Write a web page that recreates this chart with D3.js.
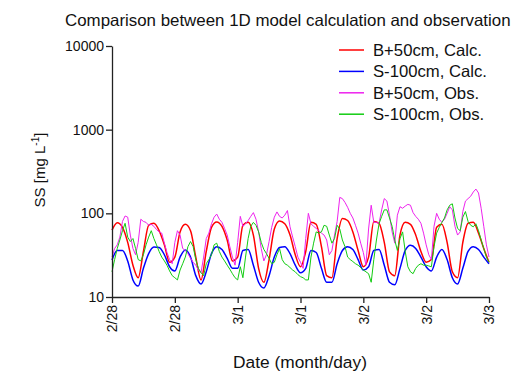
<!DOCTYPE html>
<html>
<head>
<meta charset="utf-8">
<script src="https://cdn.jsdelivr.net/npm/d3@7"></script>
<style>
  body { margin: 0; background: #fff; }
  svg { display: block; }
  text { font-family: "Liberation Sans", Arial, sans-serif; fill: #111; }
</style>
</head>
<body>
<div id="chart"></div>
<script>
// hours since 2/28 0:00, tick every 12 h
const tickHours = [0, 12, 24, 36, 48, 60, 72];
const tickLabels = ['2/28', '2/28', '3/1', '3/1', '3/2', '3/2', '3/3'];
const yTicks = [10, 100, 1000, 10000];

// model output, hourly (t = 0..72 h)
const calcB50 = [63, 77, 68, 45, 24, 17, 35, 72, 76, 62, 42, 26, 30, 60, 74, 62, 30, 16, 35, 68,
  79, 70, 48, 27, 30, 72, 78, 55, 22, 15, 28, 65, 81, 75, 55, 32, 23, 35, 78, 74,
  40, 18, 17, 50, 87, 82, 60, 36, 23, 30, 80, 76, 45, 20, 18, 55, 78, 74, 55, 35,
  26, 28, 68, 74, 45, 20, 17, 45, 76, 78, 58, 38, 26];
const calcS100 = [27.7, 36, 36, 27, 16, 13.5, 22, 33, 39.5, 39, 32, 23, 20.5, 30, 36.5, 30, 18, 14.3, 20, 33,
  40, 37, 29, 22, 22, 36, 37, 24, 15, 12.8, 18, 30, 39, 40, 33, 24, 19.5, 22, 36, 34,
  22, 15, 15, 25, 36, 40, 37, 28, 21, 23, 36, 37, 24, 15, 14, 22, 36, 41.5, 38, 30,
  23, 20.5, 30, 37, 28, 17, 14.3, 22, 35, 40, 37, 30, 25];

// observations, every 30 min (t = 0..72 h)
const obsB50 = [30, 38, 42, 52, 80, 93, 90, 55, 38, 32, 45, 85, 80, 78, 72, 74, 70, 64, 60, 58,
  44, 34, 28, 25, 45, 62, 55, 38, 36, 33, 29, 26, 24, 21, 19.5, 30, 50, 58, 75, 90,
  98, 85, 78, 66, 55, 40, 30, 24, 45, 92, 70, 75, 82, 92, 102, 85, 60, 38, 27, 32,
  46, 68, 90, 104, 92, 88, 95, 108, 69, 52, 40, 30, 26, 22, 50, 100, 75, 70, 66, 62,
  58, 55, 48, 32, 36, 55, 80, 155, 150, 135, 118, 100, 88, 72, 58, 44, 34, 24, 65, 125,
  78, 78, 76, 110, 150, 140, 95, 60, 44, 95, 120, 115, 122, 128, 125, 102, 92, 85, 76, 58,
  42, 32, 28, 70, 100, 85, 78, 85, 100, 120, 110, 70, 55, 60, 105, 140, 150, 160, 180, 195,
  175, 115, 70, 42, 30];
const obsS100 = [20, 28, 38, 48, 62, 76, 52, 46, 50, 38, 28, 27, 32, 42, 52, 62, 50, 42, 35, 30,
  27, 24, 20.5, 18, 17, 16, 21, 25, 30, 40, 46, 40, 28, 22, 19.5, 18, 25, 28, 32, 42,
  44, 35, 30, 27, 24, 21.5, 19, 17, 16, 23, 17, 30, 50, 70, 78, 72, 60, 45, 37, 33,
  29, 25, 26, 32, 38, 28, 25, 24, 22.5, 21, 20, 18.5, 17.5, 17, 16, 16, 30, 44, 60, 58,
  60, 72, 70, 55, 44, 50, 72, 65, 48, 40, 30, 28, 26.5, 25, 24, 22.5, 21, 20, 19, 15,
  28, 48, 75, 92, 110, 110, 88, 70, 48, 36, 50, 60, 35, 23, 20, 19, 22, 24, 25, 24,
  24, 23.5, 23, 40, 58, 68, 78, 88, 110, 125, 130, 88, 66, 62, 90, 105, 80, 72, 69, 75,
  62, 48, 38, 30, 26];

const seriesNames = ['B+50cm, Calc.', 'S-100cm, Calc.', 'B+50cm, Obs.', 'S-100cm, Obs.'];
const seriesColors = ['#ff0000', '#0000ff', '#ee22ee', '#11cc11'];

const W = 516, H = 374;
const margin = {top: 46, right: 27, bottom: 77, left: 112};
const plotW = W - margin.left - margin.right;
const plotH = H - margin.top - margin.bottom;

const series = [
  {name: seriesNames[0], color: seriesColors[0], width: 1.5, pts: calcB50.map((v, i) => [i, v]), curve: d3.curveMonotoneX},
  {name: seriesNames[1], color: seriesColors[1], width: 1.5, pts: calcS100.map((v, i) => [i, v]), curve: d3.curveMonotoneX},
  {name: seriesNames[2], color: seriesColors[2], width: 1, pts: obsB50.map((v, i) => [i / 2, v]), curve: d3.curveLinear},
  {name: seriesNames[3], color: seriesColors[3], width: 1, pts: obsS100.map((v, i) => [i / 2, v]), curve: d3.curveLinear}
];

const svg = d3.select('#chart').append('svg').attr('width', W).attr('height', H);
const g = svg.append('g').attr('transform', `translate(${margin.left},${margin.top})`);

const x = d3.scaleLinear().domain([0, 72]).range([0, plotW]);
const y = d3.scaleLog().domain([10, 10000]).range([plotH, 0]);

// shrink/grow a text so it spans the width
function fitWidth(sel, width) {
  const w = sel.node().getComputedTextLength();
  const fs = parseFloat(sel.attr('font-size'));
  sel.attr('font-size', fs * width / w);
}

// lines
series.forEach(s => {
  const line = d3.line().x(d => x(d[0])).y(d => y(d[1])).curve(s.curve);
  g.append('path')
      .attr('fill', 'none')
      .attr('stroke', s.color)
      .attr('stroke-width', s.width)
      .attr('stroke-linejoin', 'round')
      .attr('d', line(s.pts));
});

// axes
const xAxis = g.append('g')
    .attr('transform', `translate(0,${plotH})`)
    .call(d3.axisBottom(x).tickValues(tickHours).tickFormat((d, i) => tickLabels[i]).tickSize(6).tickSizeOuter(0));
xAxis.selectAll('text')
    .attr('font-size', 14)
    .attr('text-anchor', 'end')
    .attr('transform', 'rotate(-90)')
    .attr('x', -8)
    .attr('y', 0)
    .attr('dy', '0.35em');

const yAxis = g.append('g')
    .call(d3.axisLeft(y).tickValues(yTicks).tickFormat(d3.format('d')).tickSize(6).tickSizeOuter(0));
yAxis.selectAll('text').attr('font-size', 14).attr('x', -8);

svg.selectAll('.domain, .tick line').attr('stroke', '#222').attr('stroke-width', 1.3);
svg.selectAll('.tick text').attr('fill', '#111').style('font-family', '"Liberation Sans", Arial, sans-serif');

// title
const title = svg.append('text')
    .attr('x', 65).attr('y', 26)
    .attr('font-size', 16)
    .text('Comparison between 1D model calculation and observation');
fitWidth(title, 446);

// axis titles
const xTitle = svg.append('text')
    .attr('x', 300).attr('y', 368)
    .attr('text-anchor', 'middle')
    .attr('font-size', 16)
    .text('Date (month/day)');
fitWidth(xTitle, 134);

const yTitle = svg.append('text')
    .attr('transform', 'translate(45,170) rotate(-90)')
    .attr('text-anchor', 'middle')
    .attr('font-size', 15);
yTitle.append('tspan').text('SS [mg L');
yTitle.append('tspan').attr('dy', -6).attr('font-size', 10).text('-1');
yTitle.append('tspan').attr('dy', 6).text(']');

// legend
const legend = svg.append('g').attr('transform', 'translate(339,50)');
series.forEach((s, i) => {
  const row = legend.append('g').attr('transform', `translate(0,${i * 21.4})`);
  row.append('line')
      .attr('x1', 0).attr('x2', 25)
      .attr('stroke', s.color).attr('stroke-width', 1.5);
  const t = row.append('text')
      .attr('x', 34).attr('dy', '0.36em')
      .attr('font-size', 15)
      .text(s.name);
  if (i === 0) fitWidth(t, 109);
  else t.attr('font-size', legend.select('text').attr('font-size'));
});
</script>
</body>
</html>
